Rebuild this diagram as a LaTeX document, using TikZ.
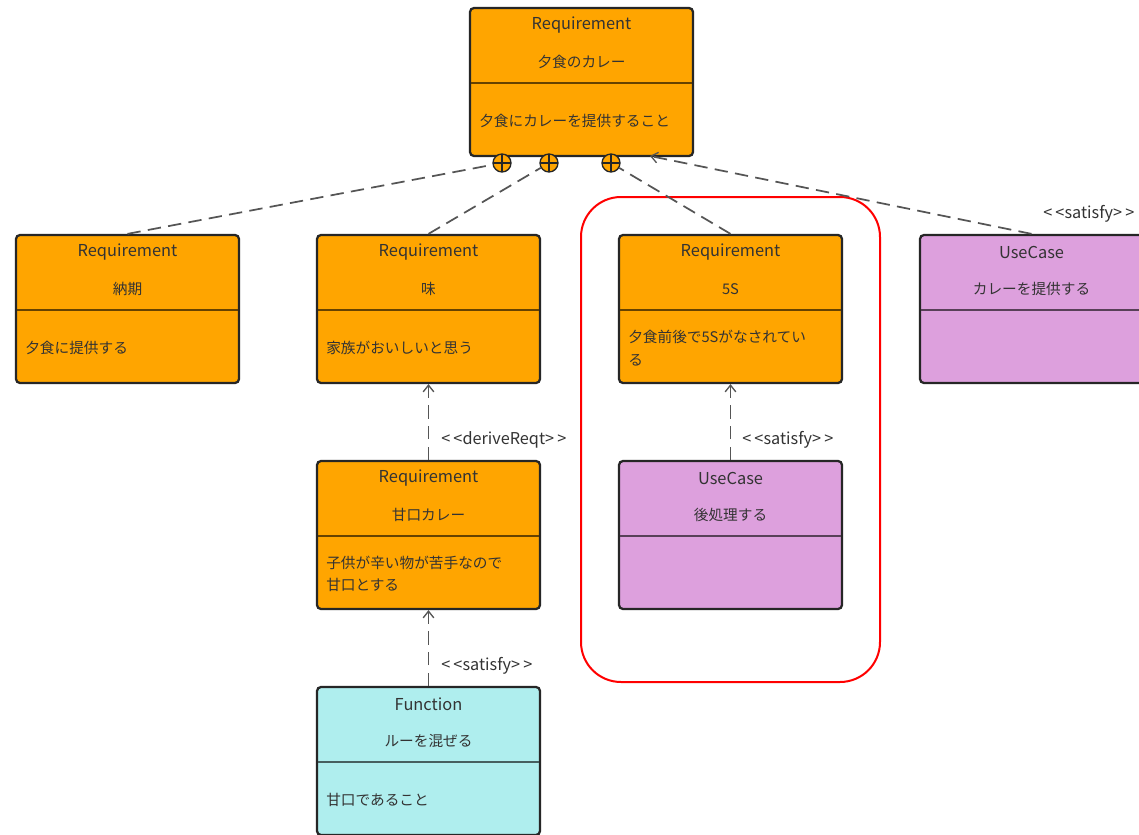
\documentclass[tikz,border=0pt]{standalone}
\usepackage{fontspec}
\setmainfont{Noto Sans CJK JP}
\usetikzlibrary{arrows.meta}
\definecolor{reqfill}{HTML}{FFA500}
\definecolor{ucfill}{HTML}{DDA0DD}
\definecolor{fnfill}{HTML}{AFEEEE}
\definecolor{txt}{HTML}{333333}
\definecolor{connc}{HTML}{555555}
\newcommand{\gt}{\hspace{2.4pt}}
\tikzset{
  umlbox/.style={draw=black!85, line width=1.7pt, rounded corners=3pt, rectangle, inner sep=0pt},
  divider/.style={line width=1.5pt},
  stereo/.style={text=txt, font=\fontsize{12.3pt}{14pt}\selectfont, inner sep=0pt},
  titletxt/.style={text=txt, font=\fontsize{11pt}{13pt}\selectfont, inner sep=0pt},
  bodytxt/.style={text=txt, font=\fontsize{11pt}{17pt}\selectfont, anchor=west, align=left, inner sep=0pt},
  conn/.style={draw=connc, line width=1.3pt, dash pattern=on 10pt off 5.5pt},
  tip/.style={-{Straight Barb[length=5pt,width=8pt,line width=1pt]}},
  lab/.style={text=txt, font=\fontsize{12.2pt}{14pt}\selectfont, anchor=west, inner sep=0pt},
  circ/.style={circle, draw=black!85, fill=reqfill, line width=1pt, minimum size=13.5pt, inner sep=0pt,
    path picture={\draw[black!85, line width=0.9pt] (path picture bounding box.north) -- (path picture bounding box.south)
      (path picture bounding box.west) -- (path picture bounding box.east);}},
  redframe/.style={draw=red, line width=1.5pt, rounded corners=30pt}
}
\newcommand{\umlbox}[7]{%
  \node[umlbox, fill=#4, minimum width=167.25pt, minimum height=111pt] (#1) at ({#2+111.5},{#3+74}) {};
  \draw[divider, draw=#4!40!black] ({#2+1},{#3+75}) -- ({#2+222},{#3+75});
  \node[stereo] (#1-s) at ({#2+111.5},{#3+17}) {#5};
  \node[titletxt] (#1-t) at ({#2+111.5},{#3+54}) {#6};
  \node[bodytxt] (#1-b) at ({#2+9},{#3+113}) {#7};
}
\begin{document}
\begin{tikzpicture}[x=0.75pt,y=-0.75pt]
\useasboundingbox (0,0) rectangle (1139,835);
\fill[white] (0,0) rectangle (1139,835);

% red grouping frame
\draw[redframe] (581,197) rectangle (880,682);

% boxes
\umlbox{top}{470}{8}{reqfill}{Requirement}{夕食のカレー}{夕食にカレーを提供すること}
\umlbox{nouki}{16}{235}{reqfill}{Requirement}{納期}{夕食に提供する}
\umlbox{aji}{317}{235}{reqfill}{Requirement}{味}{家族がおいしいと思う}
\umlbox{fives}{619}{235}{reqfill}{Requirement}{5S}{夕食前後で5Sがなされてい\\る}
\umlbox{ucA}{920}{235}{ucfill}{UseCase}{カレーを提供する}{}
\umlbox{amakuchi}{317}{461}{reqfill}{Requirement}{甘口カレー}{子供が辛い物が苦手なので\\甘口とする}
\umlbox{ucB}{619}{461}{ucfill}{UseCase}{後処理する}{}
\umlbox{func}{317}{687}{fnfill}{Function}{ルーを混ぜる}{甘口であること}

% containment circles
\node[circ] (c1) at (502,163) {};
\node[circ] (c2) at (549,163) {};
\node[circ] (c3) at (611,163) {};
\coordinate (topR) at (650,156);

% connectors
\draw[conn] (nouki.north) -- (c1);
\draw[conn] (aji.north) -- (c2);
\draw[conn] (fives.north) -- (c3);
\draw[conn, tip] (ucA.north) -- (topR);
\draw[conn, tip] (amakuchi.north) -- (aji.south);
\draw[conn, tip] (ucB.north) -- (fives.south);
\draw[conn, tip] (func.north) -- (amakuchi.south);

% labels
\node[lab] (l1) at (1043,214) {<\gt<satisfy>\gt>};
\node[lab] (l2) at (441,440) {<\gt<deriveReqt>\gt>};
\node[lab] (l3) at (742,440) {<\gt<satisfy>\gt>};
\node[lab] (l4) at (441,666) {<\gt<satisfy>\gt>};
\end{tikzpicture}
\end{document}
